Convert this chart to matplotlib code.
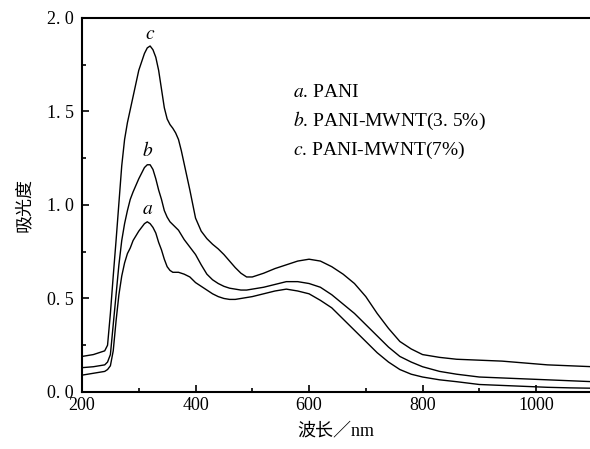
import matplotlib
matplotlib.use('Agg')
import matplotlib.pyplot as plt
from matplotlib.ticker import MultipleLocator

plt.rcParams['font.family'] = ['Liberation Serif', 'Noto Sans CJK SC']
plt.rcParams['mathtext.fontset'] = 'stix'

# wavelength (nm)
wavelength = [200, 220, 240, 245, 250, 255, 260, 265, 270, 275,
              280, 285, 290, 300, 310, 315, 320, 325, 330, 335,
              340, 345, 350, 355, 360, 365, 370, 375, 380, 390,
              400, 410, 420, 430, 440, 450, 460, 470, 480, 490,
              500, 520, 540, 560, 580, 600, 620, 640, 660, 680,
              700, 720, 740, 760, 780, 800, 830, 860, 900, 940,
              980, 1020, 1060, 1100]

# a. PANI
abs_a = [0.09, 0.10, 0.11, 0.12, 0.14, 0.22, 0.38, 0.52, 0.62, 0.69,
         0.74, 0.77, 0.81, 0.86, 0.90, 0.91, 0.90, 0.88, 0.85, 0.80,
         0.76, 0.71, 0.67, 0.65, 0.64, 0.64, 0.64, 0.635, 0.63, 0.615,
         0.585, 0.565, 0.545, 0.525, 0.51, 0.50, 0.495, 0.495, 0.50, 0.505,
         0.51, 0.525, 0.54, 0.55, 0.54, 0.525, 0.49, 0.45, 0.39, 0.33,
         0.27, 0.21, 0.16, 0.12, 0.095, 0.08, 0.065, 0.055, 0.04, 0.035,
         0.03, 0.025, 0.022, 0.02]

# b. PANI-MWNT(3.5%)
abs_b = [0.13, 0.135, 0.145, 0.16, 0.20, 0.36, 0.52, 0.68, 0.81, 0.90,
         0.97, 1.03, 1.07, 1.14, 1.20, 1.215, 1.215, 1.19, 1.14, 1.08,
         1.03, 0.97, 0.935, 0.91, 0.895, 0.88, 0.865, 0.84, 0.815, 0.775,
         0.735, 0.68, 0.63, 0.60, 0.58, 0.565, 0.555, 0.55, 0.545, 0.545,
         0.55, 0.56, 0.575, 0.59, 0.59, 0.58, 0.56, 0.52, 0.47, 0.42,
         0.36, 0.30, 0.24, 0.19, 0.16, 0.135, 0.11, 0.095, 0.08, 0.075,
         0.07, 0.065, 0.06, 0.055]

# c. PANI-MWNT(7%)
abs_c = [0.19, 0.20, 0.22, 0.25, 0.42, 0.62, 0.81, 1.01, 1.21, 1.35,
         1.44, 1.51, 1.58, 1.72, 1.81, 1.84, 1.85, 1.83, 1.79, 1.72,
         1.62, 1.52, 1.46, 1.43, 1.41, 1.385, 1.35, 1.29, 1.22, 1.08,
         0.93, 0.86, 0.82, 0.79, 0.765, 0.735, 0.70, 0.665, 0.635, 0.615,
         0.615, 0.635, 0.66, 0.68, 0.70, 0.71, 0.70, 0.67, 0.63, 0.58,
         0.51, 0.42, 0.34, 0.27, 0.23, 0.20, 0.185, 0.175, 0.17, 0.165,
         0.155, 0.145, 0.14, 0.135]

legend_lines = [r'$\it{a}$. PANI', r'$\it{b}$. PANI-MWNT(3. 5%)', r'$\it{c}$. PANI-MWNT(7%)']
y_tick_labels = ['0. 0', '0. 5', '1. 0', '1. 5', '2. 0']

fig = plt.figure(figsize=(5.9, 4.49), dpi=100)
ax = fig.add_axes([0.139, 0.127, 0.861, 0.833])

for ys in [abs_a, abs_b, abs_c]:
    ax.plot(wavelength, ys, color='black', linewidth=1.0, solid_joinstyle='round')

ax.text(316, 0.93, r'$\it{a}$', fontsize=14, ha='center', va='bottom')
ax.text(316, 1.24, r'$\it{b}$', fontsize=14, ha='center', va='bottom')
ax.text(320, 1.865, r'$\it{c}$', fontsize=14, ha='center', va='bottom')

for i, s in enumerate(legend_lines):
    ax.text(572, 1.60 - i * 0.153, s, fontsize=14, ha='left', va='center')

ax.set_xlim(200, 1095)
ax.set_ylim(0, 2.0)
ax.xaxis.set_major_locator(MultipleLocator(200))
ax.xaxis.set_minor_locator(MultipleLocator(100))
ax.set_yticks([0, 0.5, 1.0, 1.5, 2.0])
ax.set_yticklabels(y_tick_labels)
ax.yaxis.set_minor_locator(MultipleLocator(0.25))
ax.tick_params(which='both', direction='in', labelsize=13, width=1.2)
ax.tick_params(which='major', length=5)
ax.tick_params(which='minor', length=3)
ax.tick_params(axis='y', pad=6)
ax.spines['right'].set_visible(False)
for sp in ['left', 'bottom', 'top']:
    ax.spines[sp].set_linewidth(1.5)

ax.set_xlabel('波长／nm', fontsize=13, labelpad=6)
ax.set_ylabel('吸光度', fontsize=13, labelpad=10)

fig.savefig('out.png', dpi=100)
